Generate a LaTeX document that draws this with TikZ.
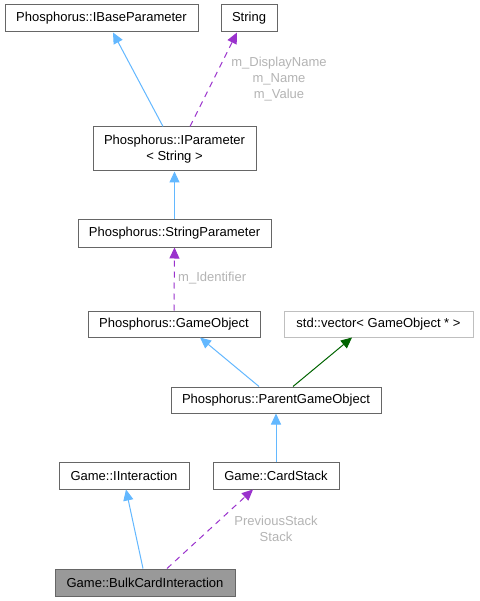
\documentclass[tikz,border=0pt]{standalone}
\usepackage{fontspec}
\setmainfont{Liberation Sans}
\usetikzlibrary{arrows.meta}
\usetikzlibrary{positioning}
\definecolor{inhblue}{HTML}{63B8FF}
\definecolor{usepurple}{HTML}{9A32CD}
\definecolor{tmplgreen}{HTML}{006400}
\definecolor{boxgray}{HTML}{666666}
\definecolor{extgray}{HTML}{BFBFBF}
\definecolor{labelgray}{HTML}{B4B4B4}
\definecolor{focusgray}{HTML}{999999}

\tikzset{
  classbox/.style={draw=boxgray, line width=1pt, fill=white, inner sep=0pt, minimum height=27pt,
    font=\fontsize{13pt}{16pt}\selectfont, align=center},
  inherit/.style={draw=inhblue, line width=1pt, -{Triangle[length=11pt,width=10pt]}},
  usage/.style={draw=usepurple, line width=1pt, dash pattern=on 6pt off 5pt, -{Triangle[length=11pt,width=10pt]}},
  tmpl/.style={draw=tmplgreen, line width=1pt, -{Triangle[length=11pt,width=10pt]}},
  edgelabel/.style={text=labelgray, font=\fontsize{13pt}{16pt}\selectfont, align=center, inner sep=0pt}
}

\begin{document}
\begin{tikzpicture}[x=1pt, y=-1pt]
  \useasboundingbox[fill=white] (0,0) rectangle (479,601);

  \node[classbox, minimum width=193pt] (base) at (101.5,18.5) {Phosphorus::IBaseParameter};
  \node[classbox, minimum width=56pt] (str) at (249,18.5) {String};
  \node[classbox, minimum width=163pt, minimum height=44pt] (ipar) at (174.5,149) {Phosphorus::IParameter\\\textless{} String \textgreater{}};
  \node[classbox, minimum width=193pt] (spar) at (174.5,233.5) {Phosphorus::StringParameter};
  \node[classbox, minimum width=172pt, minimum height=26pt] (gobj) at (174,324) {Phosphorus::GameObject};
  \node[classbox, draw=extgray, minimum width=189pt, minimum height=26pt] (vec) at (378.5,324) {std::vector\textless{} GameObject * \textgreater{}};
  \node[classbox, minimum width=210pt, minimum height=26pt] (pgo) at (276,400) {Phosphorus::ParentGameObject};
  \node[classbox, minimum width=130pt] (iint) at (124,475.5) {Game::IInteraction};
  \node[classbox, minimum width=126pt] (cstack) at (276,475.5) {Game::CardStack};
  \node[classbox, fill=focusgray, minimum width=180pt] (bulk) at (145,582.5) {Game::BulkCardInteraction};

  \node[edgelabel] (lblpar) at (279,79) {m\_DisplayName\\m\_Name\\m\_Value};
  \node[edgelabel, anchor=west] (lblid) at (178,278) {m\_Identifier};
  \node[edgelabel] (lblstack) at (276,529) {PreviousStack\\Stack};

  \draw[inherit] ([xshift=-11.5pt]ipar.north) -- ([xshift=11.5pt]base.south);
  \draw[usage] ([xshift=15.5pt]ipar.north) -- ([xshift=-12pt]str.south);
  \draw[inherit] (spar.north) -- (ipar.south);
  \draw[usage] (gobj.north) -- (spar.south);
  \draw[inherit] ([xshift=-17pt]pgo.north) -- ([xshift=26pt]gobj.south);
  \draw[tmpl] ([xshift=17pt]pgo.north) -- ([xshift=-26.5pt]vec.south);
  \draw[inherit] (cstack.north) -- (pgo.south);
  \draw[inherit] ([xshift=-2pt]bulk.north) -- ([xshift=2pt]iint.south);
  \draw[usage] ([xshift=22pt]bulk.north) -- ([xshift=-23pt]cstack.south);
\end{tikzpicture}
\end{document}
